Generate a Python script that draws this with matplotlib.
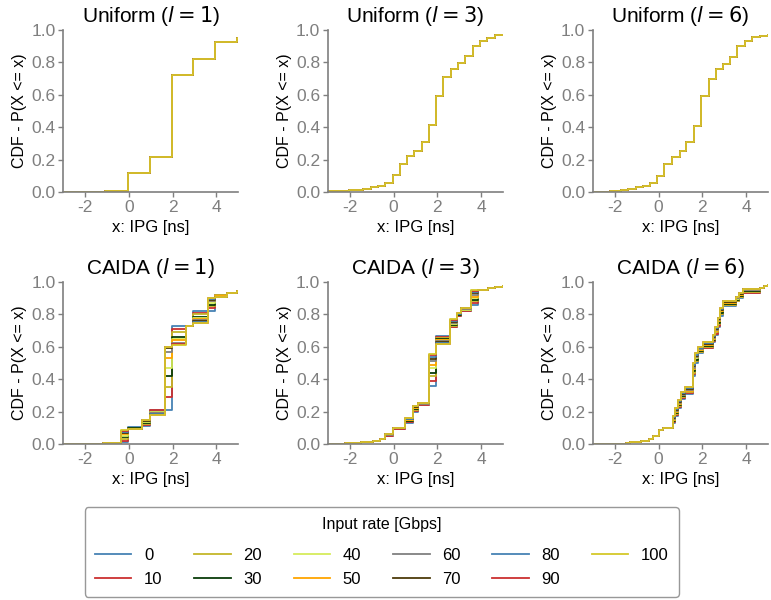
import matplotlib
matplotlib.use('Agg')
import matplotlib.pyplot as plt

plt.rcParams['font.family'] = ['Liberation Sans', 'DejaVu Sans']

rates = [0, 10, 20, 30, 40, 50, 60, 70, 80, 90, 100]
colors = ['#4682b4', '#cc3030', '#c4b62a', '#0a3d0a', '#d6ec5c', '#ffa500',
          '#808080', '#4d3a0a', '#4682b4', '#cc3030', '#d4c82a']

# Uniform traces: all input rates sit on top of each other
u1_x = [-3, -1.1, -0.05, 0.95, 1.95, 2.95, 3.95, 4.95, 5.0]
u1_cdf = [0.002, 0.005, 0.115, 0.215, 0.725, 0.822, 0.928, 0.948, 0.948]

u3_x = [-3, -2.05, -1.7, -1.38, -1.05, -0.72, -0.38, -0.05, 0.28, 0.62, 0.95, 1.28,
        1.62, 1.95, 2.28, 2.62, 2.95, 3.28, 3.62, 3.95, 4.28, 4.62, 5.0]
u3_cdf = [0.005, 0.01, 0.015, 0.02, 0.028, 0.035, 0.055, 0.105, 0.17, 0.22, 0.256, 0.308,
          0.413, 0.595, 0.707, 0.76, 0.797, 0.839, 0.9, 0.932, 0.952, 0.967, 0.97]

u6_x = [-3, -2.2, -1.7, -1.4, -1.05, -0.72, -0.4, -0.08, 0.27, 0.61, 0.96, 1.27,
        1.62, 1.95, 2.3, 2.61, 2.95, 3.28, 3.6, 3.94, 4.29, 4.62, 5.0]
u6_cdf = [0.003, 0.008, 0.013, 0.02, 0.028, 0.038, 0.055, 0.1, 0.17, 0.215, 0.25, 0.31,
          0.41, 0.59, 0.695, 0.76, 0.79, 0.835, 0.9, 0.935, 0.955, 0.965, 0.97]

# CAIDA l=1
c1_x = [-3, -1.2, -0.35, -0.05, 0.6, 0.95, 1.65, 1.95, 2.6, 2.95, 3.6, 3.95, 4.5, 4.95, 5.0]
c1_head = [0.0, 0.005]
c1_tail = [0.93, 0.945, 0.945]
c1_mid = [
    [.01, .105, .11, .21, .21, .73, .73, .82, .82, .92],
    [.02, .10, .12, .21, .29, .71, .73, .81, .84, .92],
    [.03, .10, .125, .20, .35, .69, .73, .80, .85, .92],
    [.045, .10, .13, .20, .42, .66, .73, .785, .86, .915],
    [.05, .095, .135, .195, .47, .65, .73, .78, .87, .915],
    [.06, .095, .14, .19, .53, .64, .73, .77, .88, .915],
    [.065, .09, .145, .19, .57, .625, .73, .765, .885, .91],
    [.07, .09, .145, .185, .59, .62, .73, .76, .89, .91],
    [.075, .09, .15, .185, .60, .615, .73, .755, .895, .91],
    [.08, .09, .15, .18, .60, .615, .73, .75, .90, .91],
    [.085, .09, .15, .18, .60, .61, .73, .75, .90, .91],
]

# CAIDA l=3
c3_x = [-3, -2.2, -1.5, -0.95, -0.6, -0.4, -0.05, 0.53, 0.9, 1.13, 1.62, 1.92, 2.6,
        2.88, 3.1, 3.56, 3.85, 4.3, 4.65, 5.0]
c3_head = [0.002, 0.005, 0.01, 0.02, 0.03]
c3_tail = [0.95, 0.96, 0.97, 0.975]
c3_mid = [
    [.05, .095, .13, .20, .24, .36, .665, .72, .79, .82, .855],
    [.05, .095, .135, .205, .24, .39, .66, .725, .79, .82, .87],
    [.053, .096, .14, .21, .245, .42, .655, .73, .795, .825, .88],
    [.055, .097, .145, .215, .245, .44, .65, .735, .795, .83, .89],
    [.056, .098, .148, .22, .25, .47, .645, .74, .80, .83, .90],
    [.057, .098, .15, .225, .25, .49, .64, .745, .80, .835, .91],
    [.058, .099, .153, .228, .25, .51, .635, .75, .80, .835, .92],
    [.059, .10, .155, .23, .255, .525, .63, .755, .805, .84, .93],
    [.06, .10, .157, .232, .255, .54, .625, .76, .805, .84, .94],
    [.06, .10, .158, .234, .255, .55, .62, .765, .81, .84, .945],
    [.06, .10, .16, .235, .255, .555, .617, .77, .81, .84, .948],
]

# CAIDA l=6
c6_x = [-3, -1.5, -1.3, -0.8, -0.45, -0.25, 0.0, 0.2, 0.65, 0.73, 0.88, 1.04, 1.2, 1.57,
        1.65, 1.8, 2.03, 2.5, 2.56, 2.72, 2.82, 2.95, 3.56, 3.7, 3.86, 4.63, 4.8, 5.0]
c6_head = [0.002, 0.005, 0.01, 0.02, 0.03, 0.05, 0.085, 0.1]
c6_tail = [0.96, 0.975, 0.98]
c6_mid = [
    [.13, .17, .22, .28, .31, .42, .50, .56, .59, .63, .67, .72, .79, .85, .88, .90, .93],
    [.135, .18, .23, .285, .315, .43, .51, .565, .595, .635, .68, .73, .80, .855, .885, .905, .935],
    [.14, .185, .235, .29, .32, .44, .515, .57, .60, .64, .69, .74, .805, .86, .885, .91, .94],
    [.145, .19, .24, .295, .325, .45, .52, .575, .605, .645, .695, .75, .81, .865, .89, .915, .945],
    [.15, .195, .245, .30, .33, .46, .53, .58, .61, .65, .70, .76, .82, .87, .895, .92, .95],
    [.15, .20, .25, .30, .33, .465, .535, .58, .61, .65, .70, .76, .82, .87, .90, .92, .95],
    [.155, .205, .255, .305, .335, .47, .54, .585, .615, .655, .705, .765, .825, .875, .90, .925, .95],
    [.16, .21, .26, .31, .34, .48, .545, .59, .62, .66, .71, .77, .83, .875, .905, .925, .955],
    [.165, .215, .265, .315, .345, .49, .55, .595, .625, .665, .715, .775, .835, .88, .905, .93, .955],
    [.17, .22, .27, .32, .35, .50, .56, .60, .63, .67, .72, .78, .84, .885, .91, .93, .955],
    [.17, .22, .27, .32, .35, .50, .56, .60, .63, .67, .72, .78, .84, .885, .91, .93, .955],
]

panels = [
    ('Uniform ($l=1$)', u1_x, [u1_cdf] * len(rates)),
    ('Uniform ($l=3$)', u3_x, [u3_cdf] * len(rates)),
    ('Uniform ($l=6$)', u6_x, [u6_cdf] * len(rates)),
    ('CAIDA ($l=1$)', c1_x, [c1_head + m + c1_tail for m in c1_mid]),
    ('CAIDA ($l=3$)', c3_x, [c3_head + m + c3_tail for m in c3_mid]),
    ('CAIDA ($l=6$)', c6_x, [c6_head + m + c6_tail for m in c6_mid]),
]

fig = plt.figure(figsize=(7.71, 6.0), dpi=100)
lefts = [0.082, 0.4254, 0.769]
bottoms = [0.68, 0.26]
w, h = 0.227, 0.27
grey = '#7f7f7f'

handles = []
for i, (title, xs, rows) in enumerate(panels):
    ax = fig.add_axes([lefts[i % 3], bottoms[i // 3], w, h])
    for rate, col, ys in zip(rates, colors, rows):
        ln, = ax.step(xs, ys, where='post', color=col, lw=1.3, label=str(rate))
        if i == 3:
            handles.append(ln)
    ax.set_xlim(-3, 5)
    ax.set_ylim(0, 1.0)
    ax.set_xticks([-2, 0, 2, 4])
    ax.set_xticklabels(['-2', '0', '2', '4'])
    ax.set_yticks([0, 0.2, 0.4, 0.6, 0.8, 1.0])
    ax.set_title(title, fontsize=15, pad=6)
    ax.set_xlabel('x: IPG [ns]', fontsize=12, labelpad=4)
    ax.set_ylabel('CDF - P(X <= x)', fontsize=11.5, labelpad=3)
    for s in ['top', 'right']:
        ax.spines[s].set_visible(False)
    for s in ['left', 'bottom']:
        ax.spines[s].set_color(grey)
        ax.spines[s].set_linewidth(1.2)
    ax.tick_params(colors=grey, labelcolor=grey, labelsize=12.5, length=3.5, width=1.0, pad=2)

leg = fig.legend(handles=handles, loc='lower center', bbox_to_anchor=(0.495, 0.0),
                 ncol=6, title='Input rate [Gbps]', fontsize=12, title_fontsize=11.5,
                 handlelength=2.2, columnspacing=1.9, handletextpad=0.75,
                 frameon=True, fancybox=True, borderpad=0.6, labelspacing=0.55,
                 borderaxespad=0.2)
leg._legend_box.sep = 11
leg.get_frame().set_edgecolor(grey)
leg.get_frame().set_linewidth(1.0)

fig.savefig('out.png', dpi=100)
